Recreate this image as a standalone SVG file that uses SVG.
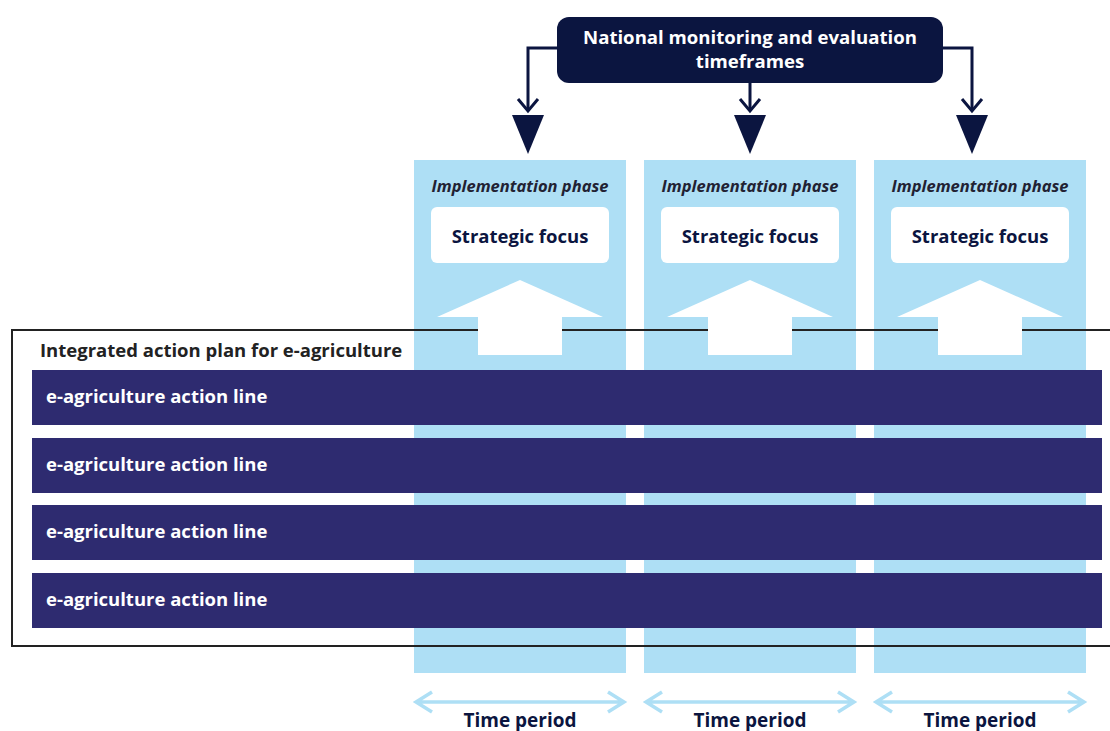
<svg xmlns="http://www.w3.org/2000/svg" width="1110" height="731" viewBox="0 0 1110 731">
<style>
.col{fill:#aedff5}
.bar{fill:#2e2b70}
.sf{fill:#ffffff}
.t{font-family:"Open Sans","Noto Sans",sans-serif;font-weight:bold}
.ip{font-family:"Open Sans","Noto Sans",sans-serif;font-weight:bold;font-style:italic;font-size:16.5px;fill:#222233}
.sft{font-size:18.5px;fill:#0b1540}
.bt{font-size:18.5px;fill:#ffffff}
.tp{font-size:19px;fill:#0b1540}
.conn{fill:none;stroke:#0b1540;stroke-width:3}
.tarr{fill:none;stroke:#aedff5;stroke-width:3.5}
</style>
<g id="columns">
<g id="col1"><rect class="col" x="414" y="160" width="212" height="513"/></g>
<g id="col2"><rect class="col" x="644" y="160" width="212" height="513"/></g>
<g id="col3"><rect class="col" x="874" y="160" width="212" height="513"/></g>
</g>
<g id="plan">
<rect x="12" y="330" width="1110" height="316" fill="none" stroke="#222" stroke-width="2"/>
<text class="t" x="40" y="357" font-size="18.5" fill="#222">Integrated action plan for e-agriculture</text>
</g>
<g id="phases">
<g id="phase1">
<text class="ip" x="520" y="192" text-anchor="middle">Implementation phase</text>
<rect class="sf" x="431" y="207" width="178" height="56" rx="6"/>
<text class="t sft" x="520" y="243" text-anchor="middle">Strategic focus</text>
<polygon class="sf" points="520,280 603,317 562,317 562,355 478,355 478,317 437,317"/>
</g>
<g id="phase2">
<text class="ip" x="750" y="192" text-anchor="middle">Implementation phase</text>
<rect class="sf" x="661" y="207" width="178" height="56" rx="6"/>
<text class="t sft" x="750" y="243" text-anchor="middle">Strategic focus</text>
<polygon class="sf" points="750,280 833,317 792,317 792,355 708,355 708,317 667,317"/>
</g>
<g id="phase3">
<text class="ip" x="980" y="192" text-anchor="middle">Implementation phase</text>
<rect class="sf" x="891" y="207" width="178" height="56" rx="6"/>
<text class="t sft" x="980" y="243" text-anchor="middle">Strategic focus</text>
<polygon class="sf" points="980,280 1063,317 1022,317 1022,355 938,355 938,317 897,317"/>
</g>
</g>
<g id="lines">
<g id="line1"><rect class="bar" x="32" y="370" width="1070" height="55"/><text class="t bt" x="46" y="403">e-agriculture action line</text></g>
<g id="line2"><rect class="bar" x="32" y="438" width="1070" height="55"/><text class="t bt" x="46" y="471">e-agriculture action line</text></g>
<g id="line3"><rect class="bar" x="32" y="505" width="1070" height="55"/><text class="t bt" x="46" y="538">e-agriculture action line</text></g>
<g id="line4"><rect class="bar" x="32" y="573" width="1070" height="55"/><text class="t bt" x="46" y="606">e-agriculture action line</text></g>
</g>
<g id="top">
<rect x="557" y="17" width="386" height="66" rx="12" fill="#0b1540"/>
<text class="t" x="750" y="44" font-size="18.6" fill="#fff" text-anchor="middle">National monitoring and evaluation</text>
<text class="t" x="750" y="68" font-size="18.6" fill="#fff" text-anchor="middle">timeframes</text>
</g>
<g id="connectors">
<path class="conn" d="M557,48 H528 V111"/>
<path class="conn" d="M518,99 L528,111 L538,99"/>
<polygon fill="#0b1540" points="512,115 544,115 528,154"/>
<path class="conn" d="M750,83 V111"/>
<path class="conn" d="M740,99 L750,111 L760,99"/>
<polygon fill="#0b1540" points="734,115 766,115 750,154"/>
<path class="conn" d="M943,48 H972 V111"/>
<path class="conn" d="M962,99 L972,111 L982,99"/>
<polygon fill="#0b1540" points="956,115 988,115 972,154"/>
</g>
<g id="timeperiods">
<g id="tp1">
<path class="tarr" d="M416,702 H624 M432,692 L416,702 L432,712 M608,692 L624,702 L608,712"/>
<text class="t tp" x="520" y="727" text-anchor="middle">Time period</text>
</g>
<g id="tp2">
<path class="tarr" d="M646,702 H854 M662,692 L646,702 L662,712 M838,692 L854,702 L838,712"/>
<text class="t tp" x="750" y="727" text-anchor="middle">Time period</text>
</g>
<g id="tp3">
<path class="tarr" d="M876,702 H1084 M892,692 L876,702 L892,712 M1068,692 L1084,702 L1068,712"/>
<text class="t tp" x="980" y="727" text-anchor="middle">Time period</text>
</g>
</g>
</svg>
